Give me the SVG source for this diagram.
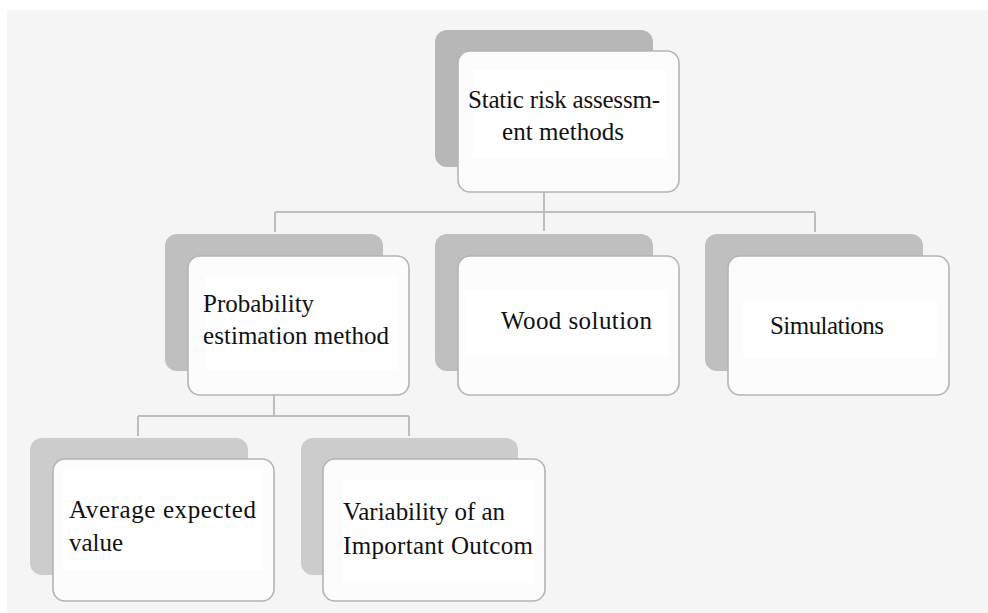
<svg xmlns="http://www.w3.org/2000/svg" width="988" height="613" viewBox="0 0 988 613">
<style>
.sh1{fill:#b7b7b7}
.sh2{fill:#bfbfbf}
.sh3{fill:#cccccc}
.card{fill:#fcfcfc;stroke:#b4b4b4;stroke-width:1.6}
.tb{fill:#ffffff}
.lbl{font-family:"Liberation Serif","Times New Roman",serif;font-size:25px;fill:#111}
.con{fill:none;stroke:#bdbdbd;stroke-width:2}
</style>
<rect x="0" y="0" width="988" height="613" fill="#ffffff"/>
<rect x="7" y="10" width="981" height="603" fill="#f5f5f5"/>
<g id="connectors">
<path class="con" d="M544 192 V231 M275 212 H815 M275 212 V232 M815 212 V232"/>
<path class="con" d="M274 395 V416 M138 416 H409 M138 416 V436 M409 416 V436"/>
</g>
<g id="node-static">
<rect class="sh1" x="435" y="30" width="218" height="137" rx="12"/>
<rect class="card" x="458" y="51" width="221" height="141" rx="12"/>
<rect class="tb" x="473" y="70" width="194" height="88"/>
<text class="lbl" x="468" y="108" textLength="192">Static risk assessm-</text>
<text class="lbl" x="502" y="140" textLength="122">ent methods</text>
</g>
<g id="node-probability">
<rect class="sh2" x="165" y="234" width="218" height="137" rx="12"/>
<rect class="card" x="188" y="256" width="221" height="139" rx="12"/>
<rect class="tb" x="205" y="277" width="192" height="93"/>
<text class="lbl" x="203" y="312">Probability</text>
<text class="lbl" x="203" y="344" textLength="186">estimation method</text>
</g>
<g id="node-wood">
<rect class="sh2" x="435" y="234" width="218" height="137" rx="12"/>
<rect class="card" x="458" y="256" width="221" height="139" rx="12"/>
<rect class="tb" x="465" y="290" width="203" height="67"/>
<text class="lbl" x="501" y="329" textLength="151">Wood solution</text>
</g>
<g id="node-simulations">
<rect class="sh2" x="705" y="234" width="218" height="137" rx="12"/>
<rect class="card" x="728" y="256" width="221" height="139" rx="12"/>
<rect class="tb" x="743" y="300" width="194" height="58"/>
<text class="lbl" x="770" y="334" textLength="114">Simulations</text>
</g>
<g id="node-average">
<rect class="sh3" x="30" y="438" width="218" height="137" rx="12"/>
<rect class="card" x="53" y="459" width="221" height="142" rx="12"/>
<rect class="tb" x="63" y="467" width="200" height="103"/>
<text class="lbl" x="69" y="518" textLength="187">Average expected</text>
<text class="lbl" x="69" y="551">value</text>
</g>
<g id="node-variability">
<rect class="sh3" x="301" y="438" width="217" height="137" rx="12"/>
<rect class="card" x="323" y="459" width="222" height="142" rx="12"/>
<rect class="tb" x="343" y="480" width="192" height="103"/>
<text class="lbl" x="343" y="520" textLength="162">Variability of an</text>
<text class="lbl" x="343" y="554" textLength="190">Important Outcom</text>
</g>
</svg>
